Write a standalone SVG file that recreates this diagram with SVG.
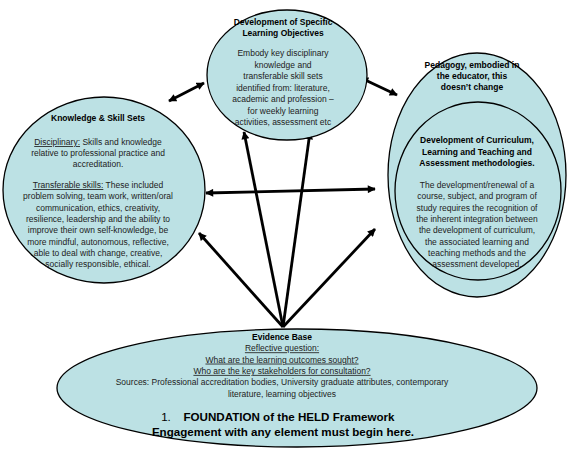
<svg xmlns="http://www.w3.org/2000/svg" width="568" height="452" viewBox="0 0 568 452">
<defs>
<style>
.shape{fill:#BCE1E4;stroke:#000;stroke-width:1.3}
text{font-family:"Liberation Sans",Arial,sans-serif;font-size:8.5px;fill:#222;text-anchor:middle}
.b{font-weight:bold;fill:#000}
.u{text-decoration:underline}
.big{font-size:11.6px;font-weight:bold;fill:#000}
.con{stroke:#000;stroke-width:2.8;fill:none}
</style>
<marker id="ah" viewBox="0 0 10 10" refX="9" refY="5" markerWidth="9" markerHeight="8" markerUnits="userSpaceOnUse" orient="auto-start-reverse">
<path d="M0,0 L10,5 L0,10 z" fill="#000"/>
</marker>
</defs>
<rect width="568" height="452" fill="#fff"/>

<g id="connectors">
<line class="con" x1="169" y1="101" x2="204" y2="83" marker-start="url(#ah)" marker-end="url(#ah)"/>
<line class="con" x1="361" y1="78" x2="397" y2="95" marker-start="url(#ah)" marker-end="url(#ah)"/>
<line class="con" x1="206" y1="193" x2="375" y2="189" marker-start="url(#ah)" marker-end="url(#ah)"/>
<line class="con" x1="283" y1="327" x2="199" y2="233" marker-end="url(#ah)"/>
<line class="con" x1="283" y1="327" x2="244" y2="132" marker-end="url(#ah)"/>
<line class="con" x1="283" y1="327" x2="310" y2="132" marker-end="url(#ah)"/>
<line class="con" x1="283" y1="327" x2="375" y2="229" marker-end="url(#ah)"/>
</g>

<g id="objectives">
<ellipse class="shape" cx="287" cy="75" rx="80" ry="65"/>
<text class="b" x="283" y="25">Development of Specific</text>
<text class="b" x="283" y="36">Learning Objectives</text>
<text x="283" y="56">Embody key disciplinary</text>
<text x="283" y="67.5">knowledge and</text>
<text x="283" y="79">transferable skill sets</text>
<text x="283" y="90.5">identified from: literature,</text>
<text x="283" y="102">academic and profession –</text>
<text x="283" y="113.5">for weekly learning</text>
<text x="283" y="125">activities, assessment etc</text>
</g>

<g id="skills">
<ellipse class="shape" cx="104" cy="190" rx="101" ry="93"/>
<text class="b" x="98" y="121">Knowledge &amp; Skill Sets</text>
<text x="98" y="145"><tspan class="u">Disciplinary:</tspan> Skills and knowledge</text>
<text x="98" y="156">relative to professional practice and</text>
<text x="98" y="167">accreditation.</text>
<text x="98" y="188"><tspan class="u">Transferable skills:</tspan> These included</text>
<text x="98" y="199.3">problem solving, team work, written/oral</text>
<text x="98" y="210.6">communication, ethics, creativity,</text>
<text x="98" y="221.9">resilience, leadership and the ability to</text>
<text x="98" y="233.2">improve their own self-knowledge, be</text>
<text x="98" y="244.5">more mindful, autonomous, reflective,</text>
<text x="98" y="255.8">able to deal with change, creative,</text>
<text x="98" y="267.1">socially responsible, ethical.</text>
</g>

<g id="pedagogy">
<ellipse class="shape" cx="477" cy="175" rx="89" ry="122"/>
<text class="b" x="472" y="68">Pedagogy, embodied in</text>
<text class="b" x="472" y="79">the educator, this</text>
<text class="b" x="472" y="90">doesn’t change</text>
</g>

<g id="curriculum">
<ellipse class="shape" cx="478" cy="191" rx="83" ry="89"/>
<text class="b" x="477" y="143">Development of Curriculum,</text>
<text class="b" x="477" y="154.5">Learning and Teaching and</text>
<text class="b" x="477" y="166">Assessment methodologies.</text>
<text x="477" y="188">The development/renewal of a</text>
<text x="477" y="199.3">course, subject, and program of</text>
<text x="477" y="210.6">study requires the recognition of</text>
<text x="477" y="221.9">the inherent integration between</text>
<text x="477" y="233.2">the development of curriculum,</text>
<text x="477" y="244.5">the associated learning and</text>
<text x="477" y="255.8">teaching methods and the</text>
<text x="477" y="267.1">assessment developed.</text>
</g>

<g id="evidence">
<ellipse class="shape" cx="297" cy="388" rx="240" ry="59"/>
<text class="b" x="282" y="340">Evidence Base</text>
<text class="u" x="282" y="351.3">Reflective question:</text>
<text class="u" x="282" y="362.6">What are the learning outcomes sought?</text>
<text class="u" x="282" y="373.9">Who are the key stakeholders for consultation?</text>
<text x="282" y="385.2">Sources: Professional accreditation bodies, University graduate attributes, contemporary</text>
<text x="282" y="396.5">literature, learning objectives</text>
<text class="big" x="289" y="421"><tspan x="166" font-weight="normal">1.</tspan><tspan x="289">FOUNDATION of the HELD Framework</tspan></text>
<text class="big" x="283" y="436">Engagement with any element must begin here.</text>
</g>
</svg>
